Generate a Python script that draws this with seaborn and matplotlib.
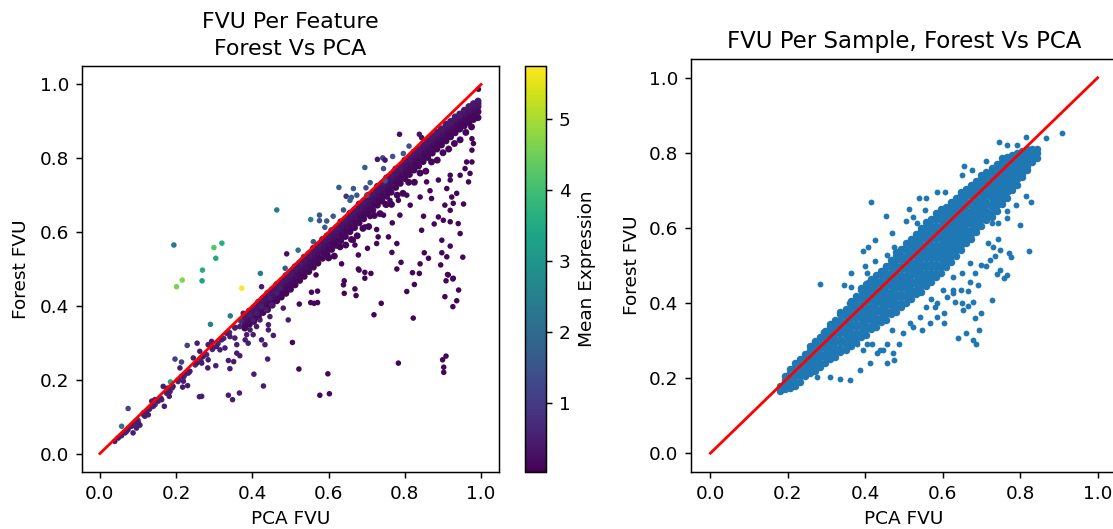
import matplotlib.pyplot as plt
import numpy as np
import pandas as pd
import seaborn as sns
from matplotlib.cm import ScalarMappable
from matplotlib.colors import Normalize

# left panel: dense band along the diagonal, read as columns of forest FVU
band_pca = [0.380, 0.392, 0.404, 0.416, 0.428, 0.440, 0.452, 0.464, 0.476, 0.488,
            0.500, 0.512, 0.524, 0.536, 0.548, 0.560, 0.572, 0.584, 0.596, 0.608, 0.620, 0.632, 0.644, 0.656, 0.668,
            0.680, 0.692, 0.704, 0.716, 0.728, 0.740, 0.752, 0.764, 0.776, 0.788, 0.800, 0.812, 0.824, 0.836, 0.848,
            0.860, 0.872, 0.884, 0.896, 0.908, 0.920, 0.932, 0.944, 0.956, 0.968, 0.980, 0.992]
band_top = [0.372, 0.386, 0.396, 0.410, 0.420, 0.434, 0.444, 0.458, 0.468, 0.482,
            0.492, 0.506, 0.516, 0.532, 0.541, 0.556, 0.565, 0.580, 0.590, 0.604, 0.612, 0.628, 0.636, 0.651, 0.660,
            0.676, 0.684, 0.700, 0.708, 0.724, 0.732, 0.747, 0.755, 0.771, 0.778, 0.795, 0.802, 0.817, 0.824, 0.840,
            0.848, 0.860, 0.870, 0.880, 0.892, 0.900, 0.912, 0.920, 0.930, 0.940, 0.948, 0.955]
band_upper = [0.365, 0.378, 0.388, 0.401, 0.412, 0.425, 0.435, 0.448, 0.459, 0.472,
              0.484, 0.497, 0.508, 0.521, 0.532, 0.546, 0.556, 0.570, 0.580, 0.594, 0.603, 0.618, 0.627, 0.641, 0.651,
              0.666, 0.675, 0.690, 0.699, 0.714, 0.723, 0.737, 0.747, 0.761, 0.770, 0.785, 0.794, 0.808, 0.817, 0.831,
              0.840, 0.852, 0.863, 0.873, 0.885, 0.894, 0.906, 0.915, 0.924, 0.933, 0.941, 0.948]
band_mid1 = [0.358, 0.369, 0.380, 0.392, 0.403, 0.415, 0.426, 0.438, 0.450, 0.462,
             0.475, 0.487, 0.499, 0.510, 0.523, 0.535, 0.546, 0.559, 0.570, 0.583, 0.594, 0.607, 0.618, 0.631, 0.642,
             0.655, 0.666, 0.679, 0.690, 0.703, 0.714, 0.727, 0.738, 0.751, 0.762, 0.775, 0.786, 0.798, 0.809, 0.821,
             0.832, 0.844, 0.855, 0.866, 0.877, 0.888, 0.899, 0.909, 0.918, 0.926, 0.934, 0.940]
band_mid2 = [0.346, 0.358, 0.368, 0.381, 0.392, 0.402, 0.414, 0.426, 0.436, 0.448,
             0.460, 0.472, 0.484, 0.495, 0.508, 0.520, 0.531, 0.544, 0.555, 0.568, 0.579, 0.592, 0.603, 0.616, 0.627,
             0.640, 0.651, 0.664, 0.675, 0.688, 0.699, 0.712, 0.723, 0.736, 0.747, 0.760, 0.771, 0.783, 0.794, 0.806,
             0.817, 0.829, 0.840, 0.851, 0.862, 0.873, 0.884, 0.894, 0.903, 0.912, 0.920, 0.926]
band_low = [0.340, 0.350, 0.358, 0.370, 0.382, 0.390, 0.402, 0.414, 0.424, 0.434,
            0.445, 0.457, 0.469, 0.480, 0.493, 0.505, 0.516, 0.529, 0.540, 0.553, 0.564, 0.577, 0.588, 0.601, 0.612,
            0.625, 0.636, 0.649, 0.660, 0.673, 0.684, 0.697, 0.708, 0.721, 0.732, 0.745, 0.756, 0.768, 0.779, 0.791,
            0.802, 0.814, 0.825, 0.836, 0.847, 0.858, 0.869, 0.879, 0.888, 0.897, 0.905, 0.910]

# ragged lower fringe of the band
fringe_pca = [0.60, 0.615, 0.63, 0.645, 0.66, 0.675, 0.69, 0.705, 0.72, 0.735, 0.75, 0.765, 0.78, 0.795,
              0.81, 0.825, 0.84, 0.855, 0.87, 0.885, 0.90, 0.915, 0.93, 0.945, 0.96, 0.975]
fringe_forest = [0.53, 0.535, 0.56, 0.565, 0.58, 0.59, 0.61, 0.615, 0.645, 0.65, 0.675, 0.675, 0.70, 0.705,
                 0.735, 0.735, 0.76, 0.765, 0.79, 0.795, 0.815, 0.825, 0.84, 0.85, 0.87, 0.885]

# points hugging the line at the low end
edge_pca = [0.055, 0.07, 0.085, 0.10, 0.115, 0.13, 0.145, 0.16, 0.175, 0.19, 0.205, 0.22, 0.235,
            0.25, 0.265, 0.28, 0.295, 0.31, 0.325, 0.34, 0.355, 0.37]
edge_forest = [0.048, 0.060, 0.076, 0.090, 0.104, 0.120, 0.133, 0.150, 0.163, 0.178, 0.195, 0.208, 0.222,
               0.240, 0.252, 0.268, 0.282, 0.298, 0.312, 0.328, 0.342, 0.358]

# scattered points below the band, bluish part first
near_pca = [0.039, 0.048, 0.057, 0.066, 0.074, 0.083, 0.092, 0.101, 0.105, 0.087, 0.096, 0.114, 0.122, 0.131, 0.127,
            0.118, 0.136, 0.144, 0.153, 0.162, 0.169, 0.140, 0.177, 0.184, 0.182, 0.192, 0.206, 0.214, 0.223, 0.232,
            0.236, 0.219, 0.217, 0.230, 0.210, 0.245, 0.254, 0.267, 0.271, 0.284, 0.283, 0.304, 0.341, 0.337, 0.351,
            0.359, 0.367, 0.262, 0.284, 0.293, 0.297, 0.255, 0.306, 0.315, 0.328, 0.319, 0.332, 0.341, 0.354, 0.359,
            0.381, 0.389, 0.385, 0.402, 0.424, 0.433, 0.411, 0.394, 0.367, 0.354, 0.376, 0.394, 0.411, 0.424, 0.437,
            0.446, 0.442, 0.455, 0.442, 0.424, 0.446, 0.464, 0.472, 0.481, 0.494, 0.451, 0.402, 0.420, 0.440, 0.404,
            0.429, 0.261, 0.267, 0.337, 0.348, 0.366, 0.166, 0.175]
near_forest = [0.033, 0.042, 0.049, 0.056, 0.065, 0.074, 0.081, 0.083, 0.077, 0.056, 0.069, 0.110, 0.114, 0.123, 0.105,
               0.101, 0.142, 0.146, 0.142, 0.146, 0.128, 0.128, 0.177, 0.168, 0.155, 0.182, 0.200, 0.209, 0.214, 0.218,
               0.223, 0.196, 0.180, 0.184, 0.232, 0.259, 0.245, 0.245, 0.263, 0.254, 0.232, 0.238, 0.230, 0.252, 0.249,
               0.272, 0.265, 0.277, 0.295, 0.304, 0.286, 0.299, 0.290, 0.281, 0.286, 0.308, 0.326, 0.317, 0.313, 0.295,
               0.308, 0.299, 0.322, 0.322, 0.308, 0.295, 0.344, 0.335, 0.344, 0.340, 0.380, 0.376, 0.380, 0.398, 0.389,
               0.371, 0.349, 0.320, 0.335, 0.452, 0.421, 0.434, 0.448, 0.394, 0.362, 0.403, 0.362, 0.362, 0.256, 0.215,
               0.183, 0.154, 0.155, 0.158, 0.146, 0.164, 0.182, 0.169]
low_pca = [0.976, 0.980, 0.976, 0.976, 0.962, 0.958, 0.971, 0.967, 0.945, 0.919, 0.919, 0.888, 0.866, 0.870, 0.910,
           0.936, 0.923, 0.905, 0.927, 0.954, 0.919, 0.888, 0.901, 0.877, 0.849, 0.844, 0.919, 0.940, 0.945, 0.897,
           0.919, 0.851, 0.897, 0.910, 0.862, 0.840, 0.952, 0.894, 0.790, 0.779, 0.820, 0.838, 0.914, 0.927, 0.766,
           0.702, 0.678, 0.634, 0.678, 0.695, 0.711, 0.726, 0.665, 0.669, 0.779, 0.757, 0.730, 0.726, 0.767, 0.787,
           0.744, 0.709, 0.695, 0.857, 0.814, 0.840, 0.805, 0.783, 0.761, 0.752,
           0.912, 0.908, 0.926, 0.941, 0.905, 0.936, 0.926, 0.825, 0.805, 0.738, 0.719, 0.822, 0.695, 0.680, 0.641,
           0.639, 0.641, 0.669, 0.672, 0.571, 0.555, 0.553, 0.562, 0.571, 0.523, 0.567, 0.505, 0.522, 0.598, 0.577,
           0.602, 0.783, 0.908, 0.899, 0.902, 0.902]
low_forest = [0.853, 0.840, 0.822, 0.790, 0.790, 0.772, 0.759, 0.736, 0.754, 0.754, 0.741, 0.741, 0.712, 0.691, 0.718,
              0.705, 0.695, 0.673, 0.678, 0.676, 0.659, 0.641, 0.632, 0.622, 0.643, 0.605, 0.628, 0.623, 0.596, 0.578,
              0.562, 0.544, 0.544, 0.533, 0.529, 0.514, 0.532, 0.511, 0.518, 0.500, 0.490, 0.488, 0.484, 0.475, 0.545,
              0.556, 0.538, 0.514, 0.500, 0.491, 0.488, 0.569, 0.578, 0.565, 0.569, 0.587, 0.587, 0.607, 0.625, 0.646,
              0.646, 0.642, 0.614, 0.736, 0.673, 0.695, 0.700, 0.686, 0.686, 0.673,
              0.485, 0.468, 0.473, 0.443, 0.425, 0.414, 0.398, 0.458, 0.439, 0.407, 0.376, 0.367, 0.475, 0.497, 0.468,
              0.457, 0.434, 0.446, 0.428, 0.440, 0.437, 0.409, 0.407, 0.409, 0.405, 0.484, 0.301, 0.229, 0.216, 0.158,
              0.162, 0.245, 0.264, 0.254, 0.234, 0.220]

# points above the line, these carry the higher expression values
high_pca = [0.201, 0.216, 0.268, 0.269, 0.421, 0.372, 0.342, 0.290, 0.057, 0.185, 0.074, 0.197, 0.229, 0.214,
            0.194, 0.299, 0.320, 0.304, 0.464, 0.490, 0.486, 0.553, 0.576, 0.576, 0.595, 0.612, 0.590, 0.520, 0.627,
            0.665, 0.646, 0.660, 0.674, 0.698, 0.709, 0.695, 0.728, 0.742, 0.748, 0.768, 0.744, 0.796, 0.811, 0.786,
            0.838, 0.844, 0.993, 0.656, 0.639, 0.560, 0.748, 0.700]
high_forest = [0.452, 0.470, 0.468, 0.497, 0.488, 0.448, 0.373, 0.350, 0.074, 0.194, 0.122, 0.256, 0.293, 0.248,
               0.565, 0.558, 0.570, 0.529, 0.660, 0.541, 0.502, 0.634, 0.646, 0.631, 0.630, 0.643, 0.613, 0.551, 0.721,
               0.718, 0.697, 0.694, 0.700, 0.720, 0.734, 0.775, 0.797, 0.801, 0.795, 0.805, 0.772, 0.813, 0.833, 0.865,
               0.865, 0.856, 0.987, 0.686, 0.660, 0.574, 0.739, 0.700]
high_expr = [4.6, 4.7, 3.3, 3.6, 2.4, 5.75, 2.4, 2.5, 2.2, 3.4, 1.2, 1.1, 1.1, 1.1,
             2.3, 4.2, 3.6, 3.5, 2.4, 0.2, 1.5, 2.5, 1.5, 1.5, 1.5, 1.6, 1.6, 2.2, 1.7,
             1.6, 0.8, 1.7, 1.5, 1.3, 1.7, 1.7, 0.3, 1.2, 0.3, 1.5, 1.5, 1.7, 1.5, 0.2,
             0.3, 0.3, 0.1, 1.8, 1.5, 1.6, 1.7, 1.8]

# right panel: pca value of each column, then the forest values seen in that column
sample_pca = [0.180, 0.193, 0.206, 0.219, 0.232, 0.245, 0.258, 0.271, 0.284, 0.297, 0.310, 0.323, 0.336, 0.349,
              0.362, 0.375, 0.388, 0.401, 0.414, 0.427, 0.440, 0.453, 0.466, 0.479, 0.492, 0.505, 0.518, 0.531,
              0.544, 0.557, 0.570, 0.583, 0.596, 0.609, 0.622, 0.635, 0.648, 0.661, 0.674, 0.687, 0.700, 0.713,
              0.726, 0.739, 0.752, 0.765, 0.778, 0.791, 0.804, 0.817, 0.830, 0.843]
sample_forest = [
    [0.165, 0.175, 0.18],
    [0.17, 0.18, 0.195, 0.205],
    [0.175, 0.19, 0.20, 0.215, 0.225],
    [0.18, 0.19, 0.205, 0.215, 0.23, 0.24],
    [0.19, 0.205, 0.215, 0.23, 0.24, 0.25],
    [0.205, 0.22, 0.23, 0.245, 0.255, 0.265],
    [0.215, 0.225, 0.24, 0.25, 0.265, 0.275, 0.285],
    [0.22, 0.235, 0.245, 0.26, 0.27, 0.285, 0.295, 0.30],
    [0.23, 0.24, 0.255, 0.265, 0.28, 0.29, 0.305, 0.31],
    [0.24, 0.255, 0.265, 0.28, 0.29, 0.305, 0.315, 0.325],
    [0.25, 0.26, 0.275, 0.285, 0.30, 0.31, 0.325, 0.335, 0.345],
    [0.255, 0.27, 0.28, 0.295, 0.305, 0.32, 0.33, 0.345, 0.355],
    [0.27, 0.28, 0.295, 0.305, 0.32, 0.33, 0.345, 0.355, 0.37, 0.375],
    [0.275, 0.29, 0.30, 0.315, 0.325, 0.34, 0.35, 0.365, 0.375, 0.385],
    [0.285, 0.295, 0.31, 0.32, 0.335, 0.345, 0.36, 0.37, 0.385, 0.395, 0.405],
    [0.295, 0.31, 0.32, 0.335, 0.345, 0.36, 0.37, 0.385, 0.395, 0.41, 0.42],
    [0.31, 0.32, 0.335, 0.345, 0.36, 0.37, 0.385, 0.395, 0.41, 0.42, 0.435, 0.44],
    [0.315, 0.33, 0.34, 0.355, 0.365, 0.38, 0.39, 0.405, 0.415, 0.43, 0.44, 0.45],
    [0.33, 0.34, 0.355, 0.365, 0.38, 0.39, 0.405, 0.415, 0.43, 0.44, 0.455, 0.465],
    [0.335, 0.35, 0.36, 0.375, 0.385, 0.40, 0.41, 0.425, 0.435, 0.45, 0.46, 0.475],
    [0.35, 0.36, 0.375, 0.385, 0.40, 0.41, 0.425, 0.435, 0.45, 0.46, 0.475, 0.485],
    [0.355, 0.37, 0.38, 0.395, 0.405, 0.42, 0.43, 0.445, 0.455, 0.47, 0.48, 0.495, 0.50],
    [0.37, 0.38, 0.395, 0.405, 0.42, 0.43, 0.445, 0.455, 0.47, 0.48, 0.495, 0.505, 0.515],
    [0.375, 0.39, 0.40, 0.415, 0.425, 0.44, 0.45, 0.465, 0.475, 0.49, 0.50, 0.515, 0.525, 0.535],
    [0.39, 0.40, 0.415, 0.425, 0.44, 0.45, 0.465, 0.475, 0.49, 0.50, 0.515, 0.525, 0.54, 0.545],
    [0.40, 0.415, 0.425, 0.44, 0.45, 0.465, 0.475, 0.49, 0.50, 0.515, 0.525, 0.54, 0.55, 0.56],
    [0.41, 0.425, 0.435, 0.45, 0.46, 0.475, 0.485, 0.50, 0.51, 0.525, 0.535, 0.55, 0.56, 0.57],
    [0.425, 0.435, 0.45, 0.46, 0.475, 0.485, 0.50, 0.51, 0.525, 0.535, 0.55, 0.56, 0.575, 0.585],
    [0.43, 0.445, 0.455, 0.47, 0.48, 0.495, 0.505, 0.52, 0.53, 0.545, 0.555, 0.57, 0.58, 0.595, 0.60],
    [0.445, 0.455, 0.47, 0.48, 0.495, 0.505, 0.52, 0.53, 0.545, 0.555, 0.57, 0.58, 0.595, 0.605, 0.615],
    [0.455, 0.47, 0.48, 0.495, 0.505, 0.52, 0.53, 0.545, 0.555, 0.57, 0.58, 0.595, 0.605, 0.62, 0.625],
    [0.47, 0.48, 0.495, 0.505, 0.52, 0.53, 0.545, 0.555, 0.57, 0.58, 0.595, 0.605, 0.62, 0.63, 0.64],
    [0.48, 0.495, 0.505, 0.52, 0.53, 0.545, 0.555, 0.57, 0.58, 0.595, 0.605, 0.62, 0.63, 0.645, 0.65],
    [0.495, 0.51, 0.52, 0.535, 0.545, 0.56, 0.57, 0.585, 0.595, 0.61, 0.62, 0.635, 0.645, 0.655],
    [0.51, 0.525, 0.535, 0.55, 0.56, 0.575, 0.585, 0.60, 0.61, 0.625, 0.635, 0.65, 0.66, 0.67],
    [0.525, 0.54, 0.55, 0.565, 0.575, 0.59, 0.60, 0.615, 0.625, 0.64, 0.65, 0.665, 0.675, 0.68],
    [0.54, 0.555, 0.565, 0.58, 0.59, 0.605, 0.615, 0.63, 0.64, 0.655, 0.665, 0.68, 0.69, 0.695],
    [0.56, 0.57, 0.585, 0.595, 0.61, 0.62, 0.635, 0.645, 0.66, 0.67, 0.685, 0.695, 0.705],
    [0.57, 0.585, 0.595, 0.61, 0.62, 0.635, 0.645, 0.66, 0.67, 0.685, 0.695, 0.71, 0.715],
    [0.59, 0.60, 0.615, 0.625, 0.64, 0.65, 0.665, 0.675, 0.69, 0.70, 0.715, 0.725],
    [0.605, 0.62, 0.63, 0.645, 0.655, 0.67, 0.68, 0.695, 0.705, 0.72, 0.73, 0.74],
    [0.62, 0.635, 0.645, 0.66, 0.67, 0.685, 0.695, 0.71, 0.72, 0.735, 0.745, 0.75],
    [0.63, 0.64, 0.655, 0.665, 0.68, 0.69, 0.705, 0.715, 0.73, 0.74, 0.755, 0.76],
    [0.645, 0.66, 0.67, 0.685, 0.695, 0.71, 0.72, 0.735, 0.745, 0.76, 0.77],
    [0.665, 0.675, 0.69, 0.70, 0.715, 0.725, 0.74, 0.75, 0.765, 0.775, 0.785],
    [0.68, 0.695, 0.705, 0.72, 0.73, 0.745, 0.755, 0.77, 0.78, 0.79],
    [0.70, 0.71, 0.725, 0.735, 0.75, 0.76, 0.775, 0.785, 0.795],
    [0.715, 0.73, 0.74, 0.755, 0.765, 0.78, 0.79, 0.80],
    [0.735, 0.745, 0.76, 0.77, 0.785, 0.795, 0.805],
    [0.755, 0.765, 0.78, 0.79, 0.80, 0.81],
    [0.775, 0.785, 0.80, 0.81],
    [0.785, 0.80, 0.81],
]

# stray samples either side of the cloud
stray_pca = [0.908, 0.866, 0.816, 0.746, 0.765, 0.792, 0.655, 0.651, 0.676, 0.711, 0.414, 0.453, 0.513, 0.538, 0.558,
             0.584, 0.605, 0.555, 0.524, 0.505, 0.533, 0.470, 0.424, 0.406, 0.393, 0.424, 0.399, 0.455, 0.474, 0.363,
             0.404, 0.284, 0.344, 0.363, 0.408, 0.358, 0.308, 0.292, 0.265,
             0.823, 0.799, 0.816, 0.827, 0.766, 0.765, 0.790, 0.728, 0.743, 0.743, 0.717, 0.730, 0.747, 0.771, 0.775,
             0.734, 0.722, 0.713, 0.700, 0.670, 0.683, 0.651, 0.627, 0.739, 0.747, 0.767, 0.759, 0.670, 0.691, 0.627,
             0.664, 0.647, 0.726, 0.679, 0.649, 0.631, 0.664, 0.653, 0.700, 0.683, 0.604, 0.580, 0.603, 0.584, 0.567,
             0.546, 0.524, 0.498, 0.693, 0.661, 0.640, 0.679, 0.686, 0.488, 0.471, 0.455, 0.473, 0.412, 0.387, 0.335,
             0.309, 0.361, 0.275, 0.447, 0.430, 0.404,
             0.378, 0.395, 0.417, 0.438, 0.455, 0.468, 0.515, 0.541, 0.584, 0.601, 0.610, 0.627, 0.558, 0.571]
stray_forest = [0.854, 0.839, 0.842, 0.830, 0.820, 0.820, 0.765, 0.741, 0.755, 0.777, 0.670, 0.633, 0.651, 0.681, 0.681,
                0.695, 0.695, 0.648, 0.630, 0.619, 0.612, 0.586, 0.568, 0.548, 0.539, 0.513, 0.499, 0.528, 0.550, 0.481,
                0.479, 0.451, 0.448, 0.444, 0.455, 0.401, 0.337, 0.323, 0.288,
                0.539, 0.608, 0.684, 0.670, 0.644, 0.626, 0.661, 0.612, 0.612, 0.571, 0.559, 0.550, 0.541, 0.532, 0.523,
                0.524, 0.515, 0.499, 0.501, 0.506, 0.479, 0.479, 0.470, 0.477, 0.488, 0.476, 0.468, 0.457, 0.448, 0.436,
                0.432, 0.436, 0.408, 0.403, 0.399, 0.403, 0.392, 0.381, 0.374, 0.359, 0.374, 0.390, 0.346, 0.364, 0.346,
                0.328, 0.337, 0.319, 0.328, 0.319, 0.306, 0.301, 0.290, 0.292, 0.266, 0.239, 0.248, 0.239, 0.221, 0.199,
                0.203, 0.196, 0.204, 0.275, 0.266, 0.292,
                0.292, 0.275, 0.292, 0.275, 0.292, 0.328, 0.346, 0.364, 0.399, 0.435, 0.417, 0.426, 0.390, 0.412]

W, H = 1113, 529
DPI = 133
EXPR_MIN, EXPR_MAX = 0.02, 5.75


def box(left, top, right, bottom):
    return [left / W, (H - bottom) / H, (right - left) / W, (bottom - top) / H]


def main():
    n = len(band_pca)
    core = pd.DataFrame(
        {
            "pca": np.concatenate([band_pca] * 5 + [fringe_pca]),
            "forest": np.concatenate([band_low, band_mid2, band_mid1, band_upper, band_top, fringe_forest]),
            "expr": np.concatenate(
                [
                    np.full(n, 0.12),
                    np.full(n, 0.15),
                    np.full(n, 0.2),
                    np.full(n, 0.3),
                    np.full(n, 0.4),
                    np.full(len(fringe_pca), 0.1),
                ]
            ),
        }
    )
    # dark points first so the teal ones stay visible
    feature = pd.DataFrame(
        {
            "pca": np.concatenate([edge_pca, near_pca, low_pca, high_pca]),
            "forest": np.concatenate([edge_forest, near_forest, low_forest, high_forest]),
            "expr": np.concatenate(
                [
                    np.full(len(edge_pca), 0.7),
                    np.full(len(near_pca), 0.45),
                    np.full(len(low_pca), 0.1),
                    high_expr,
                ]
            ),
        }
    )

    xs, ys = [], []
    for pca, values in zip(sample_pca, sample_forest):
        xs.extend([pca] * len(values))
        ys.extend(values)

    fig = plt.figure(figsize=(W / DPI, H / DPI), dpi=DPI)
    ax1 = fig.add_axes(box(82, 66, 499, 472))
    cax = fig.add_axes(box(525, 66, 546, 472))
    ax2 = fig.add_axes(box(691, 59, 1117, 472))

    norm = Normalize(EXPR_MIN, EXPR_MAX)
    sns.scatterplot(
        data=core, x="pca", y="forest", hue="expr", palette="viridis", hue_norm=norm,
        s=14, linewidth=0, legend=False, ax=ax1,
    )
    sns.scatterplot(
        data=feature, x="pca", y="forest", hue="expr", palette="viridis", hue_norm=norm,
        s=9, linewidth=0, legend=False, ax=ax1,
    )
    sns.lineplot(x=[0, 1], y=[0, 1], color="red", ax=ax1)
    ax1.set_title("FVU Per Feature\nForest Vs PCA", linespacing=1.45)
    ax1.set_xlabel("PCA FVU")
    ax1.set_ylabel("Forest FVU", labelpad=5)
    ax1.set_xlim(-0.047, 1.047)
    ax1.set_ylim(-0.05, 1.05)

    cbar = fig.colorbar(ScalarMappable(norm=norm, cmap="viridis"), cax=cax)
    cbar.set_ticks([1, 2, 3, 4, 5])
    cbar.set_label("Mean Expression")

    # the cloud needs slightly bigger dots to close up the gaps between columns
    sns.scatterplot(x=xs, y=ys, color="C0", s=16.5, linewidth=0, legend=False, ax=ax2)
    sns.scatterplot(x=stray_pca, y=stray_forest, color="C0", s=10, linewidth=0, legend=False, ax=ax2)
    sns.lineplot(x=[0, 1], y=[0, 1], color="red", ax=ax2)
    ax2.set_title("FVU Per Sample, Forest Vs PCA", fontsize=12.4)
    ax2.set_xlabel("PCA FVU")
    ax2.set_ylabel("Forest FVU")
    ax2.set_xlim(-0.05, 1.05)
    ax2.set_ylim(-0.05, 1.05)

    fig.savefig("out.png", dpi=DPI)


if __name__ == "__main__":
    main()
